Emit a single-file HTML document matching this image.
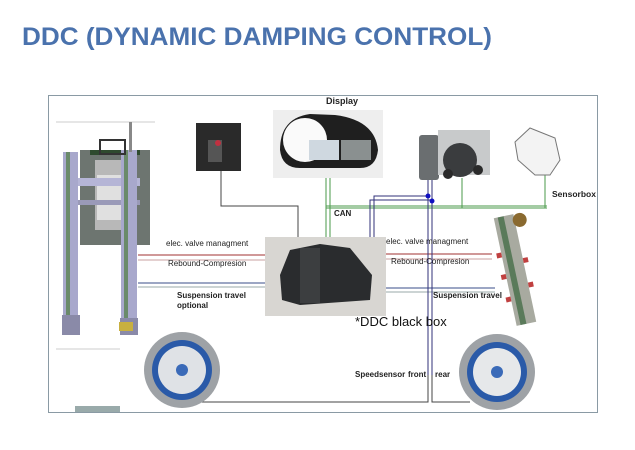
<!DOCTYPE html>
<html><head><meta charset="utf-8"><style>
html,body{margin:0;padding:0;background:#fff;}
svg{display:block;font-family:"Liberation Sans",sans-serif;}
</style></head><body>
<svg width="635" height="450" viewBox="0 0 635 450" xmlns="http://www.w3.org/2000/svg">
<rect width="635" height="450" fill="#fff"/>
<text x="22" y="45" font-size="25" font-weight="bold" fill="#4a72ad" textLength="470" lengthAdjust="spacingAndGlyphs">DDC (DYNAMIC DAMPING CONTROL)</text>
<rect x="48.5" y="95.5" width="549" height="317" fill="none" stroke="#8a9aa4" stroke-width="1"/>
<line x1="56" y1="122" x2="155" y2="122" stroke="#ccc"/>
<line x1="56" y1="349" x2="120" y2="349" stroke="#ccc"/>
<rect x="75" y="406" width="45" height="6" fill="#9aa"/>
<g>
<rect x="80" y="150" width="70" height="95" fill="#6d7570"/>
<rect x="95" y="160" width="30" height="70" fill="#b8b8b8"/>
<rect x="97" y="175" width="24" height="45" fill="#e0e0e0"/>
<rect x="75" y="178" width="65" height="8" fill="#b5b5d6"/>
<rect x="75" y="200" width="65" height="5" fill="#9a9ab8"/>
<rect x="90" y="150" width="50" height="5" fill="#2e4a2e"/>
<rect x="63" y="152" width="15" height="165" fill="#a8a8cc"/>
<rect x="66" y="152" width="4" height="165" fill="#6a8a6a"/>
<rect x="62" y="315" width="18" height="20" fill="#8a8aa8"/>
<rect x="121" y="150" width="16" height="170" fill="#a8a8cc"/>
<rect x="124" y="150" width="4" height="170" fill="#6a8a6a"/>
<rect x="129" y="122" width="3" height="30" fill="#888"/>
<rect x="120" y="318" width="18" height="17" fill="#8a8aa8"/>
<rect x="119" y="322" width="14" height="9" fill="#c8b040"/>
<rect x="100" y="140" width="25" height="14" fill="none" stroke="#333" stroke-width="2"/>
</g>
<g fill="none" stroke-width="1">
<line x1="138" y1="255" x2="265" y2="255" stroke="#a03030"/>
<line x1="138" y1="260" x2="265" y2="260" stroke="#c8a0a0"/>
<line x1="138" y1="283" x2="265" y2="283" stroke="#3a4c8a"/>
<line x1="138" y1="287" x2="265" y2="287" stroke="#9aa"/>
<line x1="385" y1="254" x2="492" y2="254" stroke="#a03030"/>
<line x1="385" y1="259" x2="492" y2="259" stroke="#c8a0a0"/>
<line x1="385" y1="288" x2="495" y2="288" stroke="#3a4c8a"/>
<line x1="385" y1="292" x2="495" y2="292" stroke="#9aa"/>
<polyline points="221,170 221,206 298,206 298,237" stroke="#444"/>
<polyline points="326,175 326,237" stroke="#4a9a4a"/>
<polyline points="330,175 330,237" stroke="#4a9a4a"/>
<line x1="326" y1="206" x2="547" y2="206" stroke="#4a9a4a"/>
<line x1="326" y1="208" x2="547" y2="208" stroke="#4a9a4a"/>
<line x1="462" y1="178" x2="462" y2="208" stroke="#4a9a4a"/>
<line x1="545" y1="175" x2="545" y2="208" stroke="#4a9a4a"/>
<polyline points="370,237 370,200 430,200" stroke="#30307a"/>
<polyline points="374,237 374,196 427,196" stroke="#30307a"/>
<line x1="428" y1="180" x2="428" y2="375" stroke="#30307a"/>
<line x1="432" y1="180" x2="432" y2="375" stroke="#30307a"/>
<polyline points="195,402 428,402 428,375" stroke="#444"/>
<polyline points="432,375 432,402 470,402" stroke="#444"/>
</g>
<circle cx="428" cy="196" r="2.5" fill="#1010c0"/>
<circle cx="432" cy="201" r="2.5" fill="#1010c0"/>
<rect x="265" y="237" width="121" height="79" fill="#d8d6d2"/>
<polygon points="280,275 290,250 320,244 350,248 372,275 370,300 300,305 282,300" fill="#2a2c2e"/>
<rect x="300" y="248" width="20" height="55" fill="#3c3e40"/>
<rect x="196" y="123" width="45" height="48" fill="#2a2a2a"/>
<rect x="208" y="140" width="14" height="22" fill="#555"/>
<circle cx="218" cy="143" r="3" fill="#c03040"/>
<rect x="273" y="110" width="110" height="68" fill="#eeeeee"/>
<path d="M280,150 Q280,118 310,114 L335,115 Q375,120 378,150 Q376,168 360,168 L300,168 Q282,168 280,150Z" fill="#1f1f1f"/>
<circle cx="305" cy="140" r="22" fill="#fafafa"/>
<rect x="309" y="140" width="30" height="20" fill="#cfd8e0"/>
<rect x="341" y="140" width="30" height="20" fill="#8a9090"/>
<text x="326" y="104" font-size="9" font-weight="bold" fill="#222">Display</text>
<rect x="419" y="135" width="20" height="45" fill="#6a6e70" rx="3"/>
<rect x="438" y="130" width="52" height="45" fill="#c8cacb"/>
<circle cx="460" cy="160" r="17" fill="#3a3c3e"/>
<circle cx="448" cy="174" r="5" fill="#2a2a2a"/><circle cx="478" cy="170" r="5" fill="#2a2a2a"/>
<path d="M515,142 L530,128 L555,138 L560,160 L550,175 L535,175 L518,160Z" fill="#f3f3f3" stroke="#777"/>
<text x="552" y="197" font-size="8.5" font-weight="bold" fill="#222">Sensorbox</text>
<g transform="rotate(-12 515 270)">
<rect x="505" y="215" width="20" height="110" fill="#a8aaa0"/>
<rect x="509" y="215" width="6" height="110" fill="#5a7a5a"/>
<circle cx="530" cy="222" r="7" fill="#8a6a30"/>
<rect x="500" y="250" width="5" height="5" fill="#c04040"/><rect x="500" y="272" width="5" height="5" fill="#c04040"/>
<rect x="500" y="295" width="5" height="5" fill="#c04040"/><rect x="525" y="260" width="5" height="5" fill="#c04040"/>
<rect x="525" y="285" width="5" height="5" fill="#c04040"/>
</g>
<g>
<circle cx="182" cy="370" r="38" fill="#9ea2a6"/>
<circle cx="182" cy="370" r="30" fill="#2a5aa8"/>
<circle cx="182" cy="370" r="24" fill="#dfe2e6"/>
<circle cx="182" cy="370" r="6" fill="#3a6ab8"/>
<circle cx="497" cy="372" r="38" fill="#9ea2a6"/>
<circle cx="497" cy="372" r="30" fill="#2a5aa8"/>
<circle cx="497" cy="372" r="24" fill="#e6e8ea"/>
<circle cx="497" cy="372" r="6" fill="#3a6ab8"/>
</g>
<g font-size="8" fill="#222">
<text x="166" y="246">elec. valve managment</text>
<text x="168" y="266">Rebound-Compresion</text>
<text x="177" y="298" font-weight="bold">Suspension travel</text>
<text x="177" y="308" font-weight="bold">optional</text>
<text x="386" y="244">elec. valve managment</text>
<text x="391" y="264">Rebound-Compresion</text>
<text x="433" y="298" font-weight="bold">Suspension travel</text>
<text x="334" y="216" font-weight="bold">CAN</text>
<text x="355" y="377" font-weight="bold">Speedsensor</text>
<text x="408" y="377" font-weight="bold">front</text>
<text x="435" y="377" font-weight="bold">rear</text>
</g>
<text x="355" y="326" font-size="13" fill="#111">*DDC black box</text>
</svg>
</body></html>
